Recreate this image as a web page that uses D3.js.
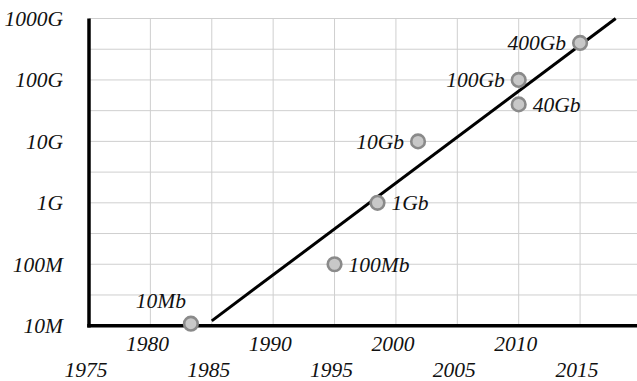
<!DOCTYPE html>
<html>
<head>
<meta charset="utf-8">
<script src="https://cdn.jsdelivr.net/npm/d3@7"></script>
<style>
  body { margin: 0; background: #fff; }
  svg text { font-family: "Liberation Serif", "Times New Roman", serif; font-style: italic; fill: #111; }
</style>
</head>
<body>
<svg width="637" height="381"></svg>
<script>
// data
var speedLabels = ["10Mb", "100Mb", "1Gb", "10Gb", "40Gb", "100Gb", "400Gb"];
var speedYears = [1983.3, 1995, 1998.5, 2001.8, 2010, 2010, 2015];
var speedValues = [1e7, 1e8, 1e9, 1e10, 4e10, 1e11, 4e11];
var labelSide = ["top", "right", "right", "left", "right", "left", "left"];

var trendYears = [1985, 2017.9];
var trendValues = [1.2e7, 1e12];

var yTicks = [1e7, 1e8, 1e9, 1e10, 1e11, 1e12];
var yTickLabels = ["10M", "100M", "1G", "10G", "100G", "1000G"];
var xTicks = [1975, 1980, 1985, 1990, 1995, 2000, 2005, 2010, 2015];

// scales
var plotLeft = 89, plotBottom = 325.7, plotTop = 18.5;
var x = d3.scaleLinear().domain([1975, 2020]).range([plotLeft, plotLeft + 45 * 12.277]);
var y = d3.scaleLog().domain([1e7, 1e12]).range([plotBottom, plotTop]);
var fs = "21.5px";

var svg = d3.select("svg");

// grid: every half decade, every 5 years
var yGrid = d3.range(7, 12.01, 0.5).map(function(e){ return Math.pow(10, e); });
svg.append("g").selectAll("line")
    .data(yGrid)
    .enter()
    .append("line")
    .attr("x1", plotLeft).attr("x2", 637)
    .attr("y1", function(d){ return y(d); })
    .attr("y2", function(d){ return y(d); })
    .attr("stroke", "#cfcfcf").attr("stroke-width", 1);

svg.append("g").selectAll("line")
    .data(xTicks.slice(1))
    .enter()
    .append("line")
    .attr("x1", function(d){ return x(d); })
    .attr("x2", function(d){ return x(d); })
    .attr("y1", plotTop).attr("y2", plotBottom)
    .attr("stroke", "#cfcfcf").attr("stroke-width", 1);

// axes lines
svg.append("line")
    .attr("x1", plotLeft).attr("x2", plotLeft)
    .attr("y1", plotTop).attr("y2", plotBottom + 1.75)
    .attr("stroke", "#000").attr("stroke-width", 3.5);
svg.append("line")
    .attr("x1", plotLeft - 1.75).attr("x2", 637)
    .attr("y1", plotBottom).attr("y2", plotBottom)
    .attr("stroke", "#000").attr("stroke-width", 3.5);

// y tick labels
svg.append("g").selectAll("text")
    .data(yTicks)
    .enter()
    .append("text")
    .attr("x", 63)
    .attr("y", function(d){ return y(d); })
    .attr("dy", "0.35em")
    .attr("text-anchor", "end")
    .style("font-size", fs)
    .text(function(d, i){ return yTickLabels[i]; });

// x tick labels, staggered
svg.append("g").selectAll("text")
    .data(xTicks)
    .enter()
    .append("text")
    .attr("x", function(d){ return x(d) - 3; })
    .attr("y", function(d, i){ return i % 2 ? 351 : 376.5; })
    .attr("text-anchor", "middle")
    .style("font-size", fs)
    .text(function(d){ return d; });

// trend line
var line = d3.line()
    .x(function(d){ return x(d[0]); })
    .y(function(d){ return y(d[1]); });
svg.append("path")
    .datum(d3.zip(trendYears, trendValues))
    .attr("d", line)
    .attr("fill", "none")
    .attr("stroke", "#000")
    .attr("stroke-width", 3);

// points
var pts = speedLabels.map(function(l, i){
    return {label: l, year: speedYears[i], value: speedValues[i], side: labelSide[i]};
});
svg.append("g").selectAll("circle")
    .data(pts)
    .enter()
    .append("circle")
    .attr("cx", function(d){ return x(d.year); })
    .attr("cy", function(d){ return y(d.value) - (d.value == 1e7 ? 2 : 0); })
    .attr("r", 6.8)
    .attr("fill", "#c8c8c8")
    .attr("stroke", "#8a8a8a")
    .attr("stroke-width", 2.6);

svg.append("g").selectAll("text")
    .data(pts)
    .enter()
    .append("text")
    .attr("x", function(d){
        var cx = x(d.year);
        if (d.side == "left") return cx - 14;
        if (d.side == "right") return cx + 14;
        return cx - 30;
    })
    .attr("y", function(d){ return d.side == "top" ? y(d.value) - 25 : y(d.value); })
    .attr("dy", "0.35em")
    .attr("text-anchor", function(d){ return d.side == "left" ? "end" : d.side == "right" ? "start" : "middle"; })
    .style("font-size", fs)
    .text(function(d){ return d.label; });
</script>
</body>
</html>
